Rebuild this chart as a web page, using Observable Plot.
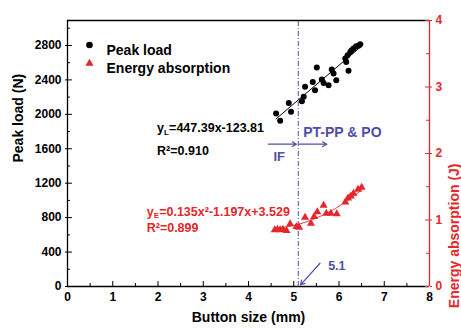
<!DOCTYPE html>
<html><head><meta charset="utf-8">
<script src="https://cdn.jsdelivr.net/npm/d3@7"></script>
<script src="https://cdn.jsdelivr.net/npm/@observablehq/plot@0.6"></script>
<style>body{margin:0;background:#fff}</style>
</head><body><div id="chart"></div>
<script>
// ---- data ----
const peakSize = [4.61,4.70,4.89,4.94,5.18,5.22,5.25,5.42,5.47,5.51,5.62,5.66,5.77,5.84,5.88,5.94,6.14,6.16,6.19,6.21,6.25,6.28,6.32,6.38,6.44,6.47];
const peakLoad = [2010,1925,2133,2029,2153,2203,2319,2377,2281,2544,2405,2365,2339,2521,2474,2397,2648,2609,2687,2505,2725,2745,2764,2791,2800,2814];
const energySize = [4.58,4.64,4.70,4.76,4.84,4.92,5.06,5.12,5.25,5.38,5.45,5.52,5.66,5.72,5.82,5.95,6.14,6.20,6.26,6.32,6.42,6.50];
const energyAbs = [0.85,0.86,0.85,0.86,0.84,0.94,0.90,0.89,1.04,0.95,1.05,1.12,1.22,1.10,1.10,1.09,1.27,1.33,1.36,1.40,1.46,1.49];
const energyFitCoef = [0.135, -1.197, 3.529]; // printed fit: a x^2 + b x + c
const xTicks = [0,1,2,3,4,5,6,7,8];
const xMinor = [0.5,1.5,2.5,3.5,4.5,5.5,6.5,7.5];
const leftTicks = [0,400,800,1200,1600,2000,2400,2800];
const leftMinor = [200,600,1000,1400,1800,2200,2600,3000];
const rightTicks = [0,1,2,3,4];
const rightMinor = [0.5,1.5,2.5,3.5];
const boundary = 5.1;
const legendLabels = ["Peak load", "Energy absorption"];
const eqL = ["y", "L", "=447.39x-123.81", "R²=0.910"];
const eqE = ["y", "E", "=0.135x²-1.197x+3.529", "R²=0.899"];
const regionLabels = ["IF", "PT-PP & PO", "5.1"];
const titles = ["Peak load (N)", "Button size (mm)", "Energy absorption (J)"];

const yMax = 3090, k = yMax / 4;
const red = "#e5262b", blue = "#4f4fa6";
const font = "Liberation Sans, Arial, sans-serif";

const peak = peakSize.map((x, i) => ({x, y: peakLoad[i]}));
const energy = energySize.map((x, i) => ({x, e: energyAbs[i]}));
const [ea, eb, ec] = energyFitCoef;
const fitXs = d3.range(d3.min(energySize), d3.max(energySize) + 0.001, 0.02);
const energyFit = fitXs.map(x => ({x, e: ea * x * x + eb * x + ec}));

const chart = Plot.plot({
  width: 461, height: 331,
  marginLeft: 67, marginRight: 32, marginTop: 20, marginBottom: 45,
  style: {fontFamily: font, fontWeight: "bold", fontSize: "12px", background: "white"},
  x: {domain: [0, 8]},
  y: {domain: [0, yMax]},
  marks: [
    // frame
    Plot.ruleY([yMax], {x1: 0, x2: 8, stroke: "black", strokeWidth: 1.3}),
    Plot.ruleX([0], {y1: 0, y2: yMax, stroke: "black", strokeWidth: 1.3}),
    Plot.ruleY([0], {x1: 0, x2: 8, stroke: "black", strokeWidth: 1.3}),
    // inward ticks
    Plot.ruleX(xTicks, {y1: 0, y2: 58, stroke: "black"}),
    Plot.ruleX(xMinor, {y1: 0, y2: 35, stroke: "black"}),
    Plot.ruleY(leftTicks, {x1: 0, x2: 0.11, stroke: "black"}),
    Plot.ruleY(leftMinor, {x1: 0, x2: 0.066, stroke: "black"}),
    Plot.ruleY(rightTicks.map(d => d * k), {x1: 8, x2: 7.91, stroke: red}),
    Plot.ruleY(rightMinor.map(d => d * k), {x1: 8, x2: 7.934, stroke: red}),
    // axes
    Plot.axisX(xTicks, {tickSize: 0, tickPadding: 6, fontSize: 12, fontWeight: "bold", label: null}),
    Plot.axisY(leftTicks, {tickSize: 2, tickPadding: 4, tickFormat: d => String(d), fontSize: 12, fontWeight: "bold", label: null}),
    Plot.axisY(rightTicks.map(d => d * k), {anchor: "right", tickSize: 2, tickPadding: 4, tickFormat: d => String(Math.round(d / k)),
      stroke: red, fill: red, color: red, fontSize: 12, fontWeight: "bold", label: null}),
    Plot.ruleX([8], {y1: 0, y2: yMax, stroke: red, strokeWidth: 1.3}),
    // boundary
    Plot.ruleX([boundary], {y1: 0, y2: yMax, stroke: blue, strokeWidth: 1, strokeDasharray: "5,2,1,2"}),
    // fits
    Plot.linearRegressionY(peak, {x: "x", y: "y", ci: 0, stroke: "black", strokeWidth: 1}),
    Plot.line(energyFit, {x: "x", y: d => d.e * k, stroke: red, strokeWidth: 1}),
    // data
    Plot.dot(peak, {x: "x", y: "y", r: 3, fill: "black"}),
    Plot.dot(energy, {x: "x", y: d => d.e * k, r: 3, symbol: "triangle", fill: red}),
    // annotations
    Plot.arrow([{x1: 4.44, x2: 5.06, y: 1653}], {x1: "x1", x2: "x2", y1: "y", y2: "y", stroke: blue, strokeWidth: 1.2, headLength: 6}),
    Plot.arrow([{x1: 5.12, x2: 5.73, y: 1653}], {x1: "x1", x2: "x2", y1: "y", y2: "y", stroke: blue, strokeWidth: 1.2, headLength: 6}),
    Plot.arrow([{x1: 5.58, y1: 270, x2: 5.15, y2: 20}], {x1: "x1", y1: "y1", x2: "x2", y2: "y2", stroke: blue, strokeWidth: 1.2, headLength: 6}),
    Plot.text([regionLabels[0]], {x: 4.55, y: 1502, text: d => d, fill: blue, fontSize: 13, fontWeight: "bold", textAnchor: "start"}),
    Plot.text([regionLabels[1]], {x: 5.21, y: 1791, text: d => d, fill: blue, fontSize: 14, fontWeight: "bold", textAnchor: "start"}),
    Plot.text([regionLabels[2]], {x: 5.76, y: 236, text: d => d, fill: blue, fontSize: 12.5, fontWeight: "bold", textAnchor: "start"}),
    // equations
    Plot.text([eqL[0]], {x: 1.98, y: 1836, text: d => d, fontSize: 12.5, fontWeight: "bold", textAnchor: "start"}),
    Plot.text([eqL[1]], {x: 1.98, y: 1836, text: d => d, fontSize: 8, fontWeight: "bold", textAnchor: "start", dx: 7, dy: 4}),
    Plot.text([eqL[2]], {x: 1.98, y: 1836, text: d => d, fontSize: 12.5, fontWeight: "bold", textAnchor: "start", dx: 12}),
    Plot.text([eqL[3]], {x: 1.98, y: 1570, text: d => d, fontSize: 12.5, fontWeight: "bold", textAnchor: "start"}),
    Plot.text([eqE[0]], {x: 1.75, y: 871, text: d => d, fill: red, fontSize: 12.5, fontWeight: "bold", textAnchor: "start"}),
    Plot.text([eqE[1]], {x: 1.75, y: 871, text: d => d, fill: red, fontSize: 8, fontWeight: "bold", textAnchor: "start", dx: 7, dy: 4}),
    Plot.text([eqE[2]], {x: 1.75, y: 871, text: d => d, fill: red, fontSize: 12.5, fontWeight: "bold", textAnchor: "start", dx: 12.5}),
    Plot.text([eqE[3]], {x: 1.75, y: 674, text: d => d, fill: red, fontSize: 12.5, fontWeight: "bold", textAnchor: "start"}),
    // legend
    Plot.dot([0], {frameAnchor: "top-left", dx: 22, dy: 24.5, r: 3.3, fill: "black"}),
    Plot.dot([0], {frameAnchor: "top-left", dx: 22, dy: 43, r: 3, symbol: "triangle", fill: red}),
    Plot.text([legendLabels[0]], {frameAnchor: "top-left", dx: 39, dy: 24.5, text: d => d, fontSize: 14, fontWeight: "bold", textAnchor: "start"}),
    Plot.text([legendLabels[1]], {frameAnchor: "top-left", dx: 39, dy: 43, text: d => d, fontSize: 14, fontWeight: "bold", textAnchor: "start"}),
    // axis titles
    Plot.text([titles[0]], {frameAnchor: "left", dx: -49, dy: 9, rotate: -90, text: d => d, fontSize: 14, fontWeight: "bold"}),
    Plot.text([titles[1]], {frameAnchor: "bottom", dy: 35, text: d => d, fontSize: 14, fontWeight: "bold"}),
    Plot.text([titles[2]], {frameAnchor: "right", dx: 25, dy: 10, rotate: -90, text: d => d, fill: red, fontSize: 14, fontWeight: "bold"})
  ]
});
document.getElementById("chart").appendChild(chart);
</script>
</body></html>
